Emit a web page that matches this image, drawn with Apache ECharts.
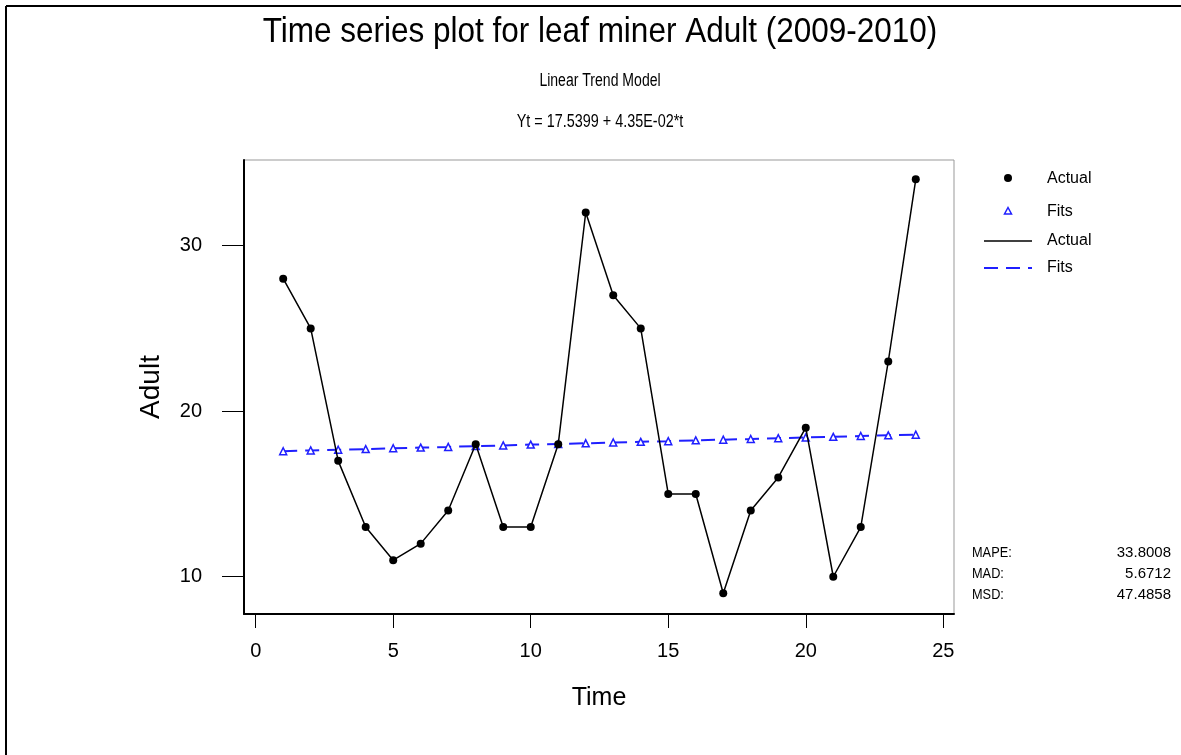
<!DOCTYPE html>
<html>
<head>
<meta charset="utf-8">
<title>Time series plot for leaf miner Adult</title>
<script src="https://cdn.jsdelivr.net/npm/echarts@6/dist/echarts.min.js"></script>
<style>
  html, body { margin: 0; padding: 0; background: #fff; }
  #chart { width: 1181px; height: 755px; }
</style>
</head>
<body>
<div id="chart"></div>
<script>
// data
const timeIdx = [1, 2, 3, 4, 5, 6, 7, 8, 9, 10, 11, 12, 13, 14, 15, 16, 17, 18, 19, 20, 21, 22, 23, 24];
const actual = [28, 25, 17, 13, 11, 12, 14, 18, 13, 13, 18, 32, 27, 25, 15, 15, 9, 14, 16, 19, 10, 13, 23, 34];
const fits = [17.58, 17.63, 17.67, 17.71, 17.76, 17.80, 17.84, 17.89, 17.93, 17.98, 18.02, 18.06,
              18.11, 18.15, 18.19, 18.24, 18.28, 18.32, 18.37, 18.41, 18.45, 18.50, 18.54, 18.58];
const xTicks = [0, 5, 10, 15, 20, 25];
const yTicks = [10, 20, 30];
const accLabels = ['MAPE:', 'MAD:', 'MSD:'];
const accValues = ['33.8008', '5.6712', '47.4858'];

const FONT = '"Liberation Sans", Arial, sans-serif';
const BLUE = '#1f1fff';

const chart = echarts.init(document.getElementById('chart'));

// accuracy measures block (right side, under the plot)
const accTexts = [];
const accY = [553, 574, 595];
accLabels.forEach((lab, i) => {
    accTexts.push({
        type: 'text', x: 972, y: accY[i], scaleX: 0.85,
        style: { text: lab, font: '15px ' + FONT, fill: '#000', textAlign: 'left', textVerticalAlign: 'middle' }
    });
    accTexts.push({
        type: 'text', x: 1171, y: accY[i],
        style: { text: accValues[i], font: '15px ' + FONT, fill: '#000', textAlign: 'right', textVerticalAlign: 'middle' }
    });
});

const option = {
    animation: false,
    backgroundColor: '#fff',
    grid: {
        left: 244, right: 227, top: 160, bottom: 141,
        show: true, borderColor: '#999', borderWidth: 1
    },
    xAxis: {
        type: 'value',
        min: -0.425, max: 25.39,
        name: 'Time',
        nameLocation: 'middle',
        nameGap: 72,
        nameTextStyle: { fontFamily: FONT, fontSize: 25, color: '#000' },
        axisLine: { show: true, onZero: false, lineStyle: { color: '#000', width: 2 } },
        axisTick: { show: true, length: 14, customValues: xTicks, lineStyle: { color: '#000', width: 1 } },
        axisLabel: { customValues: xTicks, margin: 27, fontFamily: FONT, fontSize: 20, color: '#000' },
        splitLine: { show: false }
    },
    yAxis: {
        type: 'value',
        min: 7.75, max: 35.17,
        name: 'Adult',
        nameLocation: 'middle',
        nameGap: 79,
        nameTextStyle: { fontFamily: FONT, fontSize: 28, color: '#000' },
        axisLine: { show: true, onZero: false, lineStyle: { color: '#000', width: 2 } },
        axisTick: { show: true, length: 22, customValues: yTicks, lineStyle: { color: '#000', width: 1 } },
        axisLabel: { customValues: yTicks, margin: 42, fontFamily: FONT, fontSize: 20, color: '#000' },
        splitLine: { show: false }
    },
    series: [
        {
            name: 'Fits',
            type: 'line',
            data: timeIdx.map((t, i) => [t, fits[i]]),
            symbol: 'triangle',
            symbolSize: 7,
            itemStyle: { color: '#fff', borderColor: BLUE, borderWidth: 1.5 },
            lineStyle: { color: BLUE, width: 2, type: [14, 8] },
            z: 2
        },
        {
            name: 'Actual',
            type: 'line',
            data: timeIdx.map((t, i) => [t, actual[i]]),
            symbol: 'circle',
            symbolSize: 8,
            itemStyle: { color: '#000' },
            lineStyle: { color: '#000', width: 1.5 },
            z: 3
        }
    ],
    graphic: [
        // outer frame
        { type: 'line', shape: { x1: 6, y1: 6, x2: 1181, y2: 6 }, style: { stroke: '#000', lineWidth: 2 } },
        { type: 'line', shape: { x1: 6, y1: 6, x2: 6, y2: 755 }, style: { stroke: '#000', lineWidth: 2 } },
        // titles
        {
            type: 'text', x: 600, y: 32, scaleX: 0.9,
            style: { text: 'Time series plot for leaf miner Adult (2009-2010)', font: '35px ' + FONT, fill: '#000', textAlign: 'center', textVerticalAlign: 'middle' }
        },
        {
            type: 'text', x: 600, y: 81, scaleX: 0.78,
            style: { text: 'Linear Trend Model', font: '18px ' + FONT, fill: '#000', textAlign: 'center', textVerticalAlign: 'middle' }
        },
        {
            type: 'text', x: 600, y: 122, scaleX: 0.8,
            style: { text: 'Yt = 17.5399 + 4.35E-02*t', font: '18px ' + FONT, fill: '#000', textAlign: 'center', textVerticalAlign: 'middle' }
        },
        // legend
        { type: 'circle', shape: { cx: 1008, cy: 178, r: 4 }, style: { fill: '#000' } },
        { type: 'text', x: 1047, y: 179, style: { text: 'Actual', font: '16px ' + FONT, fill: '#000', textVerticalAlign: 'middle' } },
        { type: 'polygon', shape: { points: [[1008, 207.5], [1004.5, 214], [1011.5, 214]] }, style: { fill: '#fff', stroke: BLUE, lineWidth: 1.5 } },
        { type: 'text', x: 1047, y: 212, style: { text: 'Fits', font: '16px ' + FONT, fill: '#000', textVerticalAlign: 'middle' } },
        { type: 'line', shape: { x1: 984, y1: 241, x2: 1032, y2: 241 }, style: { stroke: '#000', lineWidth: 1.5 } },
        { type: 'text', x: 1047, y: 241, style: { text: 'Actual', font: '16px ' + FONT, fill: '#000', textVerticalAlign: 'middle' } },
        { type: 'line', shape: { x1: 984, y1: 268, x2: 1032, y2: 268 }, style: { stroke: BLUE, lineWidth: 2, lineDash: [14, 8] } },
        { type: 'text', x: 1047, y: 268, style: { text: 'Fits', font: '16px ' + FONT, fill: '#000', textVerticalAlign: 'middle' } }
    ].concat(accTexts)
};

chart.setOption(option);
</script>
</body>
</html>
